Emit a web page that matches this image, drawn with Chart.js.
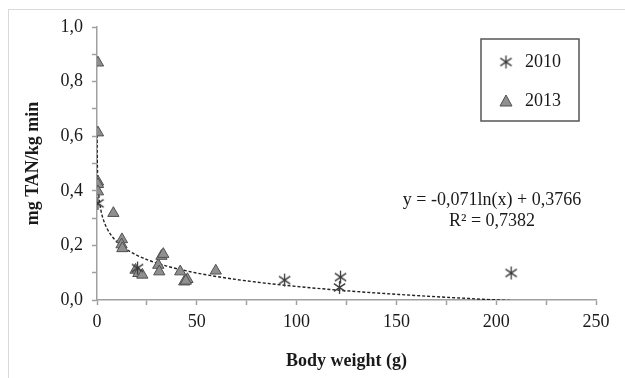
<!DOCTYPE html>
<html>
<head>
<meta charset="utf-8">
<script src="https://cdn.jsdelivr.net/npm/chart.js@4/dist/chart.umd.min.js"></script>
<style>
  html, body { margin: 0; padding: 0; background: #fff; }
  #wrap { position: relative; width: 625px; height: 378px; }
  #frame { position: absolute; left: 8px; top: 9px; width: 617px; height: 369px;
           border-left: 1px solid #d9d9d9; border-top: 1px solid #d9d9d9; pointer-events: none; }
</style>
</head>
<body>
<div id="wrap">
  <canvas id="c" width="625" height="378"></canvas>
  <div id="frame"></div>
</div>
<script>
// ---- data ----
const series2010Label = '2010';
const series2010X = [0.5, 20.3, 94, 122, 121.5, 207.5];
const series2010Y = [0.354, 0.117, 0.073, 0.084, 0.046, 0.099];

const series2013Label = '2013';
const series2013X = [0.5, 0.5, 0.5, 0.5, 0.5, 8.2, 12.5, 12.3, 12.7, 19.3, 20.7, 22.7, 30.7, 31.2, 32.3, 33.2, 41.7, 43.7, 45.3, 44.5, 59.5];
const series2013Y = [0.869, 0.613, 0.433, 0.424, 0.397, 0.318, 0.222, 0.203, 0.189, 0.110, 0.098, 0.092, 0.128, 0.104, 0.161, 0.168, 0.104, 0.067, 0.076, 0.070, 0.107];

// trendline printed on the chart: y = -0,071 ln(x) + 0,3766
const trendSlope = -0.071;
const trendIntercept = 0.3766;
const trendX = [0.04, 0.08, 0.15, 0.3, 0.5, 1, 2, 3, 5, 8, 12, 18, 25, 35, 50, 70, 95, 125, 160, 190, 208];
const equationLines = ['y = -0,071ln(x) + 0,3766', 'R\u00B2 = 0,7382'];

const xTitle = 'Body weight (g)';
const yTitle = 'mg TAN/kg min';
const xTickValues = [0, 50, 100, 150, 200, 250];
const yTickValues = [0.0, 0.2, 0.4, 0.6, 0.8, 1.0];

// ---- marker: 6-armed asterisk ----
function makeAsterisk(size, color) {
  const cv = document.createElement('canvas');
  cv.width = size; cv.height = size;
  const g = cv.getContext('2d');
  g.strokeStyle = color; g.lineWidth = 1.3;
  const c = size / 2, r = size / 2 - 1;
  g.beginPath();
  g.moveTo(c, c - r); g.lineTo(c, c + r);
  g.moveTo(c - r * 0.87, c - r * 0.6); g.lineTo(c + r * 0.87, c + r * 0.6);
  g.moveTo(c - r * 0.87, c + r * 0.6); g.lineTo(c + r * 0.87, c - r * 0.6);
  g.stroke();
  return cv;
}
const asterisk = makeAsterisk(15, '#3a3a3a');

const pts2010 = series2010X.map((x, i) => ({x, y: series2010Y[i]}));
const pts2013 = series2013X.map((x, i) => ({x, y: series2013Y[i]}));
const trendPts = trendX.map(x => ({x, y: trendSlope * Math.log(x) + trendIntercept}));

const serif = "'Liberation Serif', 'Times New Roman', serif";

const overlayPlugin = {
  id: 'overlay',
  afterDraw(chart) {
    const ctx = chart.ctx;
    ctx.save();
    // legend box
    ctx.strokeStyle = '#555';
    ctx.lineWidth = 1.5;
    ctx.strokeRect(481, 39, 98, 82);
    ctx.drawImage(asterisk, 506 - 7.5, 62 - 7.5);
    // triangle marker
    ctx.beginPath();
    ctx.moveTo(506, 95); ctx.lineTo(512, 106); ctx.lineTo(500, 106); ctx.closePath();
    ctx.fillStyle = '#8f8f8f'; ctx.fill();
    ctx.strokeStyle = '#505050'; ctx.lineWidth = 1; ctx.stroke();
    ctx.fillStyle = '#1a1a1a';
    ctx.font = '18px ' + serif;
    ctx.textBaseline = 'middle';
    ctx.textAlign = 'left';
    ctx.fillText(series2010Label, 525, 62);
    ctx.fillText(series2013Label, 525, 101);
    // equation
    ctx.textAlign = 'center';
    ctx.fillText(equationLines[0], 492, 200);
    ctx.fillText(equationLines[1], 492, 221);
    ctx.restore();
  }
};

new Chart(document.getElementById('c'), {
  type: 'scatter',
  data: {
    datasets: [
      {
        label: series2010Label,
        data: pts2010,
        pointStyle: asterisk,
        pointRadius: 7,
        order: 1
      },
      {
        label: series2013Label,
        data: pts2013,
        pointStyle: 'triangle',
        pointRadius: 6.5,
        backgroundColor: '#8f8f8f',
        borderColor: '#505050',
        borderWidth: 1,
        order: 2
      },
      {
        type: 'line',
        label: 'trend',
        data: trendPts,
        borderColor: '#222',
        borderWidth: 1.4,
        borderDash: [3, 2],
        pointRadius: 0,
        tension: 0.4,
        cubicInterpolationMode: 'monotone',
        fill: false,
        order: 3
      }
    ]
  },
  options: {
    responsive: false,
    animation: false,
    events: [],
    layout: { padding: { left: 10, top: 27, right: 29, bottom: 0 } },
    plugins: { legend: { display: false }, tooltip: { enabled: false } },
    scales: {
      x: {
        type: 'linear',
        min: 0, max: 250,
        afterFit(s) { s.height = 78; },
        border: { color: '#a0a0a0', width: 1.5 },
        grid: { display: true, drawOnChartArea: false, drawTicks: true, tickLength: 5, color: '#a0a0a0', tickWidth: 1.5 },
        ticks: {
          stepSize: 25, autoSkip: false, maxRotation: 0, padding: 6,
          color: '#1a1a1a', font: { family: serif, size: 18 },
          callback: v => xTickValues.includes(v) ? String(v) : ''
        },
        title: { display: true, text: xTitle, color: '#1a1a1a', font: { family: serif, size: 18, weight: 'bold' }, padding: { top: 0, bottom: 6 } }
      },
      y: {
        type: 'linear',
        min: 0, max: 1,
        afterFit(s) { s.width = 87; },
        border: { color: '#a0a0a0', width: 1.5 },
        grid: { display: true, drawOnChartArea: false, drawTicks: true, tickLength: 5, color: '#a0a0a0', tickWidth: 1.5 },
        ticks: {
          stepSize: 0.1, autoSkip: false, padding: 9,
          color: '#1a1a1a', font: { family: serif, size: 18 },
          callback: v => {
            const r = Math.round(v * 10) / 10;
            return yTickValues.some(t => Math.abs(t - r) < 1e-9) ? r.toFixed(1).replace('.', ',') : '';
          }
        },
        title: { display: true, text: yTitle, color: '#1a1a1a', font: { family: serif, size: 18, weight: 'bold' }, padding: { top: 13, bottom: 0 } }
      }
    }
  },
  plugins: [overlayPlugin]
});
</script>
</body>
</html>
